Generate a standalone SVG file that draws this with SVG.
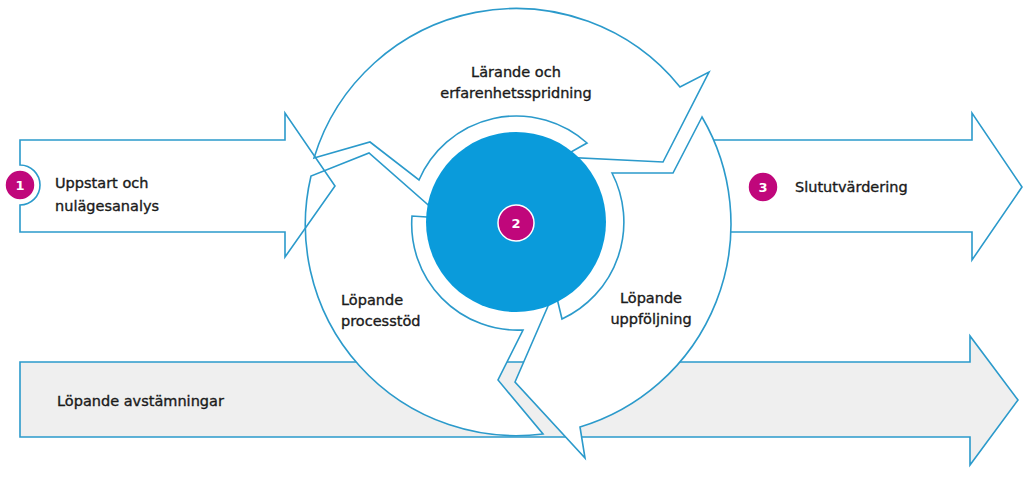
<svg xmlns="http://www.w3.org/2000/svg" width="1024" height="477" viewBox="0 0 1024 477">
<style>
.ol{fill:#fff;stroke:#2b9acb;stroke-width:1.6;stroke-linejoin:miter}
.no{fill:none;stroke:#2b9acb;stroke-width:1.6}
.t{font-family:"DejaVu Sans",sans-serif;font-size:14.5px;fill:#1a1a1a;stroke:#1a1a1a;stroke-width:0.35}
.b{fill:#c0077b;stroke:#fff;stroke-width:1.5}
.bt{font-family:"DejaVu Sans",sans-serif;font-size:13px;font-weight:bold;fill:#fff;text-anchor:middle}
</style>
<rect width="1024" height="477" fill="#fff"/>
<g id="arrow-avstamningar">
<path d="M20,362 H970 V336 L1018,400 L970,465 V437 H20 Z" fill="#efefef" stroke="#2b9acb" stroke-width="1.6"/>
<text class="t" x="57" y="406">Löpande avstämningar</text>
</g>
<g id="arrow-slututvardering">
<path class="ol" d="M700,140 H972 V113 L1022,187 L972,260 V232 H700 Z"/>
</g>
<g id="cycle">
<path id="seg-larande" class="ol" d="M314,158 L370,142 L419,180 A106 106 0 0 1 587,143 L562,157 L663,162 L709,72 L680,87 A211 211 0 0 0 314,158 Z"/>
<path id="seg-uppfoljning" class="ol" d="M702,117 L673,173 L612,173 A107 107 0 0 1 562,319 L555,290 L515,382 L585,458 L580,427 A212 212 0 0 0 702,117 Z"/>
<path id="seg-processtod" class="ol" d="M543,434 A211 211 0 0 1 311,176 L369,153 L443,218 L412,216 A106 106 0 0 0 523,330 L498,380 Z"/>
<circle cx="516" cy="222" r="90" fill="#0a9bdb"/>
</g>
<g id="arrow-uppstart">
<path class="no" d="M20,140 H285 V113 L335,186 L285,257 V232 H20 V205 A20 20 0 0 0 20,165 Z"/>
</g>
<g id="badges">
<circle class="b" cx="20" cy="185" r="15"/><text class="bt" x="20" y="190">1</text>
<circle class="b" cx="516" cy="223" r="18"/><text class="bt" x="516" y="228">2</text>
<circle class="b" cx="763" cy="187" r="15"/><text class="bt" x="763" y="192">3</text>
</g>
<g id="labels">
<text class="t" x="55" y="188">Uppstart och</text>
<text class="t" x="55" y="211">nulägesanalys</text>
<text class="t" x="795" y="192">Slututvärdering</text>
<text class="t" x="516" y="77" text-anchor="middle">Lärande och</text>
<text class="t" x="516" y="98" text-anchor="middle">erfarenhetsspridning</text>
<text class="t" x="341" y="305">Löpande</text>
<text class="t" x="341" y="326">processtöd</text>
<text class="t" x="651" y="303" text-anchor="middle">Löpande</text>
<text class="t" x="651" y="324" text-anchor="middle">uppföljning</text>
</g>
</svg>
